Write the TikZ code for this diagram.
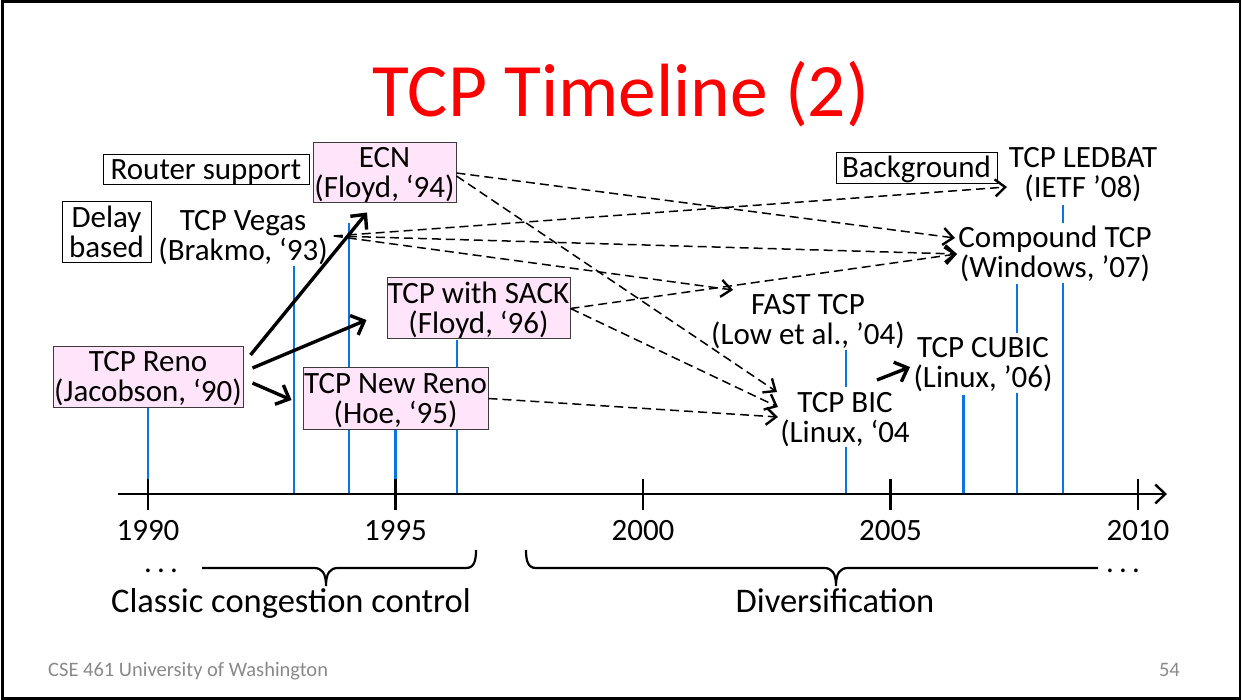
\documentclass[tikz,border=0pt]{standalone}
\usepackage{fontspec}
\setmainfont{Carlito}
\usetikzlibrary{arrows.meta}
\definecolor{tlblue}{RGB}{10,116,224}
\definecolor{tlpink}{RGB}{255,228,250}
\definecolor{footgray}{RGB}{137,137,137}
\definecolor{boxedge}{RGB}{60,60,60}
\definecolor{titlered}{RGB}{255,0,0}
\newcommand\twolines[2]{\rule{0pt}{20pt}\smash{#1}\\\smash{#2}}
\newcommand\oneline[1]{\rule{0pt}{20pt}\smash{#1}}
\begin{document}
\begin{tikzpicture}[x=1pt,y=-1pt,
  every node/.style={font=\fontsize{31}{30}\selectfont, inner sep=0pt},
  pinkbox/.style={draw=boxedge, line width=1pt, fill=tlpink, align=center},
  labelbox/.style={draw=black, line width=1pt, fill=white, align=center},
  plaintext/.style={align=center, fill=white, inner xsep=1pt, inner ysep=5pt},
  yearline/.style={draw=tlblue, line width=2.3pt},
  influence/.style={draw=black, line width=3.4pt, -{Straight Barb[length=11pt,width=21pt,line width=3.4pt]}},
  dashinf/.style={draw=black, line width=1.5pt, dash pattern=on 9pt off 5pt, -{Straight Barb[length=10pt,width=17pt,line width=2.4pt]}},
  axistick/.style={draw=black, line width=2.2pt},
  bracepath/.style={draw=black, line width=2.2pt},
  yearlabel/.style={anchor=base},
  biglabel/.style={anchor=base, font=\fontsize{34.5}{36}\selectfont},
]
\useasboundingbox (0,0) rectangle (1242,700);
\draw[line width=2.5pt] (2.5,1.5) rectangle (1240,698.5);

% title
\node[anchor=base, text=titlered, font=\fontsize{75.5}{80}\selectfont] (title) at (621,117) {TCP Timeline (2)};

% blue year lines
\draw[yearline] (148,407) -- (148,494);
\draw[yearline] (294,264) -- (294,494);
\draw[yearline] (349,223) -- (349,494);
\draw[yearline] (395.5,429) -- (395.5,494);
\draw[yearline] (457,340) -- (457,494);
\draw[yearline] (846,347) -- (846,494);
\draw[yearline] (963.5,395) -- (963.5,494);
\draw[yearline] (1017,284) -- (1017,494);
\draw[yearline] (1063,205) -- (1063,494);

% axis
\draw[line width=2.4pt, -{Straight Barb[length=10pt,width=19pt,line width=2.4pt]}] (118,494) -- (1167,494);
\foreach \xx/\yy in {148/1990,395.5/1995,643/2000,890.5/2005,1138/2010}{
  \draw[axistick] (\xx,479) -- (\xx,510);
  \node[yearlabel] at (\xx,540) {\yy};
}

% nodes
\node[labelbox, minimum width=206pt, minimum height=30pt] (router) at (206,170) {\oneline{Router support}};
\node[pinkbox, minimum width=143pt, minimum height=60pt] (ecn) at (384.5,173) {\twolines{ECN}{(Floyd, ‘94)}};
\node[labelbox, minimum width=89pt, minimum height=61pt] (delay) at (106.5,232.5) {\twolines{Delay}{based}};
\node[plaintext] (vegas) at (243,236) {\twolines{TCP Vegas}{(Brakmo, ‘93)}};
\node[pinkbox, minimum width=183pt, minimum height=61pt] (sack) at (478.5,308.5) {\twolines{TCP with SACK}{(Floyd, ‘96)}};
\node[pinkbox, minimum width=190pt, minimum height=60pt] (reno) at (148,377) {\twolines{TCP Reno}{(Jacobson, ‘90)}};
\node[pinkbox, minimum width=185pt, minimum height=61pt] (newreno) at (395.5,398.5) {\twolines{TCP New Reno}{(Hoe, ‘95)}};
\node[labelbox, minimum width=161pt, minimum height=31pt] (bg) at (916.5,168) {\oneline{Background}};
\node[plaintext] (ledbat) at (1083,173) {\twolines{TCP LEDBAT}{(IETF ’08)}};
\node[plaintext] (compound) at (1055,253) {\twolines{Compound TCP}{(Windows, ’07)}};
\node[plaintext] (fast) at (808,320) {\twolines{FAST TCP}{(Low et al., ’04)}};
\node[plaintext] (cubic) at (983,363) {\twolines{TCP CUBIC}{(Linux, ’06)}};
\node[plaintext] (bic) at (845,417) {\twolines{TCP BIC}{(Linux, ‘04}};

% connection points
\coordinate (vegasout) at ([xshift=5pt]vegas.east);
\coordinate (cmpA) at ([shift={(-100pt,15pt)}]compound.center);
\coordinate (cmpB) at ([shift={(-98pt,-1pt)}]compound.center);
\coordinate (bicA) at ([shift={(-68pt,25pt)}]bic.center);
\coordinate (bicB) at ([shift={(-67pt,10pt)}]bic.center);
\coordinate (bicC) at ([shift={(-67pt,0pt)}]bic.center);

% solid influence arrows
\draw[influence] ([shift={(7pt,22pt)}]reno.east) -- ([shift={(-17.5pt,-9pt)}]ecn.south);
\draw[influence] ([shift={(9pt,9pt)}]reno.east) -- ([shift={(-20pt,-11.5pt)}]sack.west);
\draw[influence] ([shift={(9pt,-6pt)}]reno.east) -- ([shift={(-11pt,-1.5pt)}]newreno.west);
\draw[influence] ([shift={(32pt,37pt)}]bic.center) -- ([shift={(-73pt,-4pt)}]cubic.center);

% dashed influence arrows
\draw[dashinf] (ecn.east) -- (cmpA);
\draw[dashinf] ([yshift=-3pt]ecn.east) -- (bicA);
\draw[dashinf] (vegasout) -- ([shift={(-76pt,-14pt)}]ledbat.center);
\draw[dashinf] (vegasout) -- (cmpB);
\draw[dashinf] (vegasout) -- ([shift={(-75pt,30pt)}]fast.center);
\draw[dashinf] (sack.east) -- (cmpB);
\draw[dashinf] (sack.east) -- (bicB);
\draw[dashinf] (newreno.east) -- (bicC);

% braces
\draw[bracepath] (202,568) -- (314,568) .. controls (322,568) and (326,573) .. (326,586)
  .. controls (326,573) and (330,568) .. (338,568) -- (466,568) .. controls (474,568) and (476,561) .. (476,550);
\draw[bracepath] (526,550) .. controls (526,561) and (528,568) .. (536,568) -- (824,568)
  .. controls (832,568) and (836,573) .. (836,586) .. controls (836,573) and (840,568) .. (848,568) -- (1098,568);
\node[anchor=base] (dotsl) at (161,572) {.\,.\,.};
\node[anchor=base] (dotsr) at (1123,572) {.\,.\,.};
\node[biglabel] (classic) at (291,612) {Classic congestion control};
\node[biglabel] (divers) at (835,612) {Diversification};

% footer
\node[anchor=base west, text=footgray, font=\fontsize{20.5}{24}\selectfont] (foot) at (48,676) {CSE 461 University of Washington};
\node[anchor=base east, text=footgray, font=\fontsize{20.5}{24}\selectfont] (page) at (1180,676) {54};
\end{tikzpicture}
\end{document}
